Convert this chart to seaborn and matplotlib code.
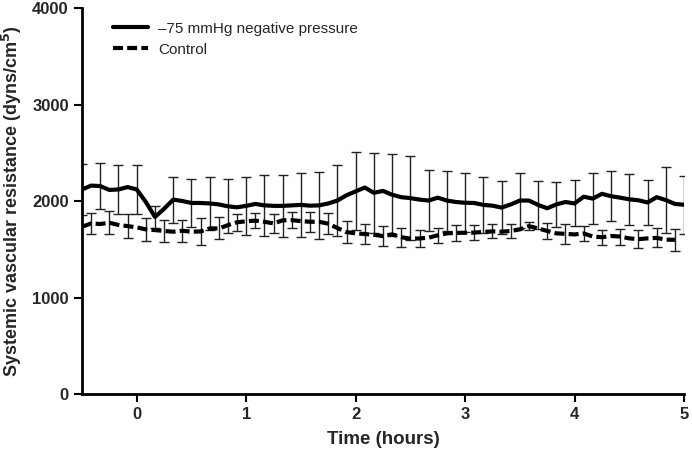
import numpy as np
import pandas as pd
import seaborn as sns
import matplotlib.pyplot as plt

# time grid: every 5 minutes from -30 min to 300 min (hours)
time_h = np.arange(-30, 301, 5) / 60.0

# -75 mmHg negative pressure, mean SVR
npwt_mean = [2120, 2160, 2155, 2115, 2120, 2145, 2120, 1990, 1835, 1920,
             2015, 2000, 1980, 1980, 1975, 1965, 1945, 1935, 1950, 1970,
             1955, 1950, 1950, 1955, 1960, 1952, 1955, 1975, 2005, 2060,
             2100, 2140, 2085, 2105, 2065, 2040, 2030, 2015, 2005, 2035,
             2005, 1990, 1982, 1980, 1960, 1952, 1932, 1965, 2005, 2005,
             1960, 1925, 1965, 1990, 1975, 2045, 2025, 2075, 2050, 2035,
             2018, 2008, 1985, 2040, 2010, 1970, 1962]
# error bars every 10 min (t = -0.5, -0.33, ... 5.0)
npwt_sd = [260, 240, 255, 255, 117, 238, 247, 273, 280, 300, 320, 323,
           331, 348, 366, 405, 414, 423, 435, 315, 311, 307, 290, 274,
           282, 245, 237, 238, 264, 262, 264, 233, 338, 299]

# control, mean SVR (ends at 4.92 h)
ctrl_mean = [1733, 1768, 1762, 1775, 1752, 1740, 1727, 1706, 1699, 1690,
             1682, 1692, 1682, 1685, 1716, 1716, 1750, 1780, 1790, 1797,
             1785, 1768, 1800, 1802, 1792, 1785, 1785, 1765, 1720, 1678,
             1665, 1658, 1650, 1637, 1655, 1625, 1610, 1612, 1620, 1645,
             1665, 1670, 1671, 1673, 1680, 1685, 1682, 1690, 1706, 1740,
             1716, 1690, 1665, 1660, 1654, 1664, 1632, 1625, 1638, 1632,
             1613, 1605, 1613, 1618, 1600, 1598]
# error bars every 10 min, offset by 5 min (t = -0.42, -0.25, ... 4.92)
ctrl_sd = [112, 121, 121, 117, 117, 112, 141, 114, 87, 81, 95, 86,
           104, 107, 112, 104, 104, 98, 93, 80, 81, 78, 73, 76,
           43, 83, 107, 76, 78, 83, 95, 98, 116]

sns.set_style("ticks")
plt.rcParams['font.family'] = ['Liberation Sans', 'DejaVu Sans']

fig = plt.figure(figsize=(6.92, 4.49), dpi=100)
ax = fig.add_axes([0.1185, 0.1225, 0.8700, 0.8595])

npwt = pd.DataFrame({"t": time_h, "svr": npwt_mean})
ctrl = pd.DataFrame({"t": time_h[:len(ctrl_mean)], "svr": ctrl_mean})

# error bars (drawn first, thin dark grey)
ax.errorbar(npwt["t"][::2], npwt["svr"][::2], yerr=npwt_sd, fmt="none",
            ecolor="#222222", elinewidth=1.0, capsize=3.5, capthick=1.0, zorder=1)
ax.errorbar(ctrl["t"][1::2], ctrl["svr"][1::2], yerr=ctrl_sd, fmt="none",
            ecolor="#222222", elinewidth=1.0, capsize=3.5, capthick=1.0, zorder=1)

sns.lineplot(data=npwt, x="t", y="svr", ax=ax, color="black", linewidth=3.0,
             label="\u201375 mmHg negative pressure", zorder=3)
sns.lineplot(data=ctrl, x="t", y="svr", ax=ax, color="black", linewidth=3.0,
             dashes=False, label="Control", zorder=3)
ax.lines[-1].set_dashes((2.4, 1.0))

ax.set_xlim(-0.5, 5)
ax.set_ylim(0, 4000)
ax.set_xticks([0, 1, 2, 3, 4, 5])
ax.set_yticks([0, 1000, 2000, 3000, 4000])
ax.tick_params(axis="both", direction="out", length=6, width=1.5,
               labelsize=12, color="black")
for lab in ax.get_xticklabels() + ax.get_yticklabels():
    lab.set_fontweight("bold")

ax.set_xlabel("Time (hours)", fontsize=13.5, fontweight="bold", labelpad=6)
ax.set_ylabel("Systemic vascular resistance (dyns/cm$^\\mathbf{5}$)",
              fontsize=13, fontweight="bold", labelpad=6)

sns.despine(ax=ax)
for side in ["left", "bottom"]:
    ax.spines[side].set_linewidth(2.0)
    ax.spines[side].set_color("black")

leg = ax.legend(loc="upper left", bbox_to_anchor=(0.028, 1.0), frameon=False,
                fontsize=11, handlelength=2.3, handletextpad=0.7, labelspacing=0.45)
leg.get_lines()[1].set_dashes((2.4, 1.0))

fig.savefig("out.png", dpi=100)
